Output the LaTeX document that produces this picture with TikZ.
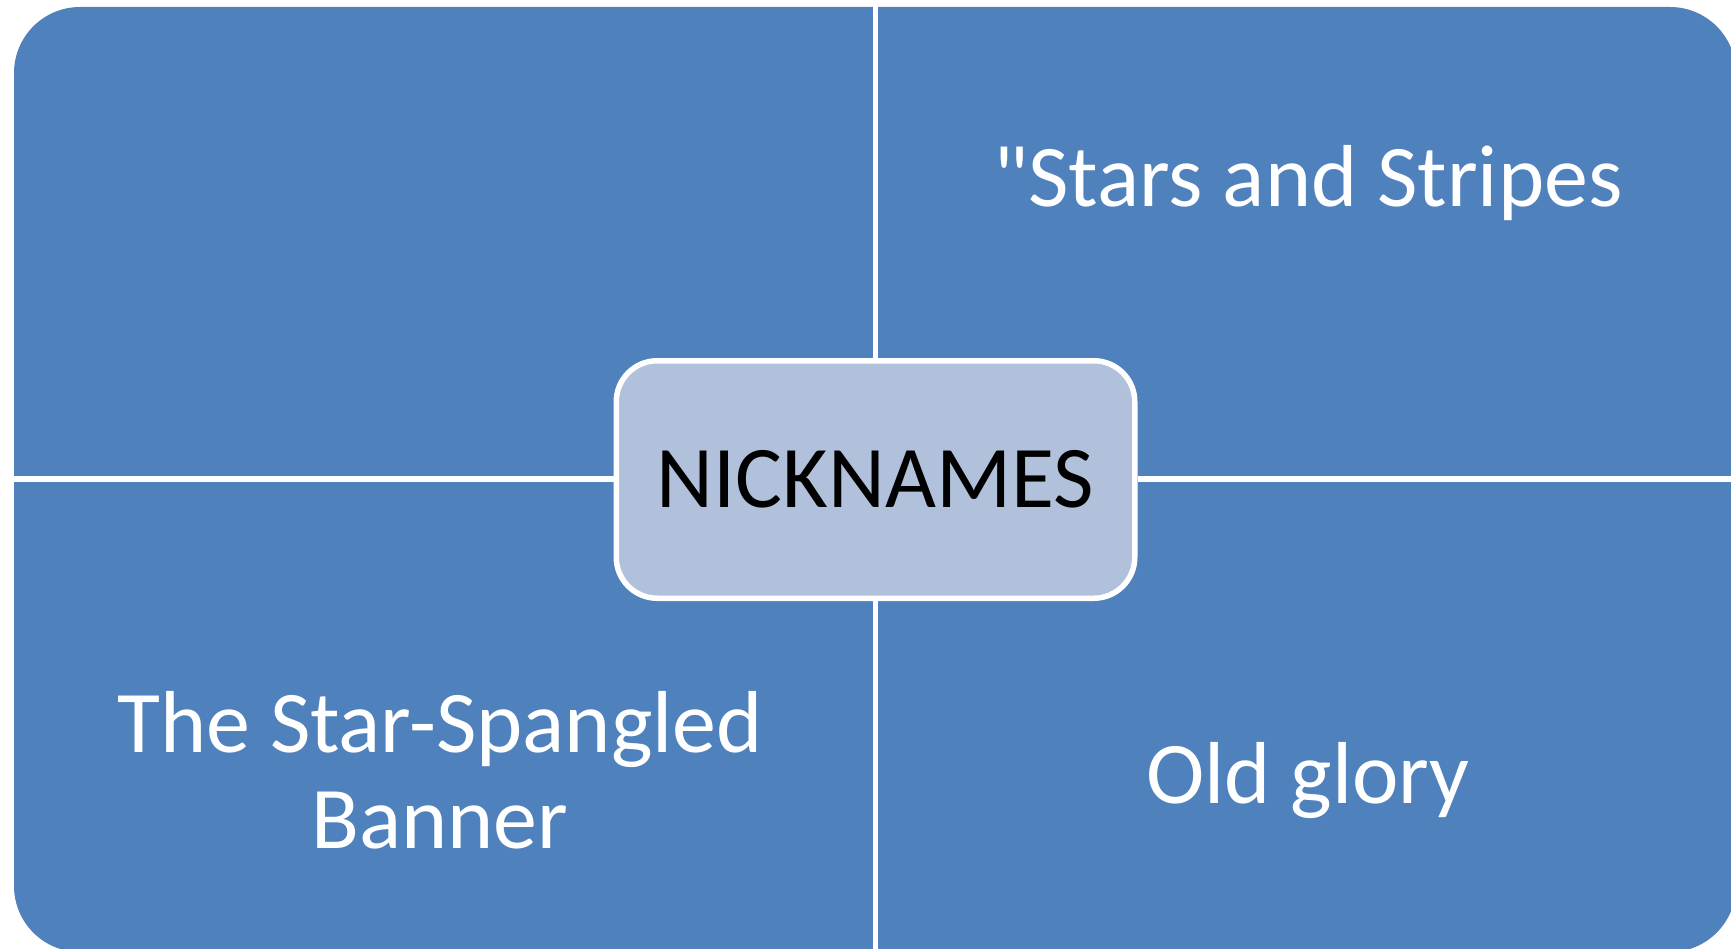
\documentclass[tikz,border=0pt]{standalone}
\usepackage{fontspec}
\setmainfont{Carlito}[Ligatures=TeXOff]
\usetikzlibrary{backgrounds}
\definecolor{quadblue}{HTML}{4F81BD}
\definecolor{hubfill}{HTML}{B1C1DB}
\tikzset{
  quadrant/.style={fill=quadblue, rounded corners=66pt},
  divider/.style={draw=white, line width=5.5pt},
  hubbox/.style={draw=white, line width=5.5pt, fill=hubfill, rounded corners=41pt,
    minimum width=518.5pt, minimum height=237.5pt, inner sep=0pt,
    font=\fontsize{88}{96}\selectfont, text=black},
  lbl/.style={text=white, inner sep=0pt, font=\fontsize{88}{96}\selectfont}
}
\begin{document}
\begin{tikzpicture}[x=1pt,y=-1pt]
\useasboundingbox (0,0) rectangle (1731,949);
\clip (0,0) rectangle (1731,949);
\node[hubbox] (hub) at (875.5,479.5) {NICKNAMES};
\coordinate (top) at (875.5,0);
\coordinate (bottom) at (875.5,949);
\coordinate (left) at (14,479);
\coordinate (right) at (1736,479);
\begin{pgfonlayer}{background}
\fill[quadrant] (14,7) rectangle (1736,952);
\draw[divider] (top) -- (hub.north);
\draw[divider] (hub.south) -- (bottom);
\draw[divider] (left) -- (hub.west |- left);
\draw[divider] (hub.east |- right) -- (right);
\end{pgfonlayer}
\node[lbl, anchor=base] (stars) at (1308,207) {"Stars and Stripes};
\node[lbl, anchor=base] (glory) at (1308,803) {Old glory};
\node[lbl, anchor=base, align=center] (banner) at (440,848) {The Star-Spangled\\Banner};
\end{tikzpicture}
\end{document}
